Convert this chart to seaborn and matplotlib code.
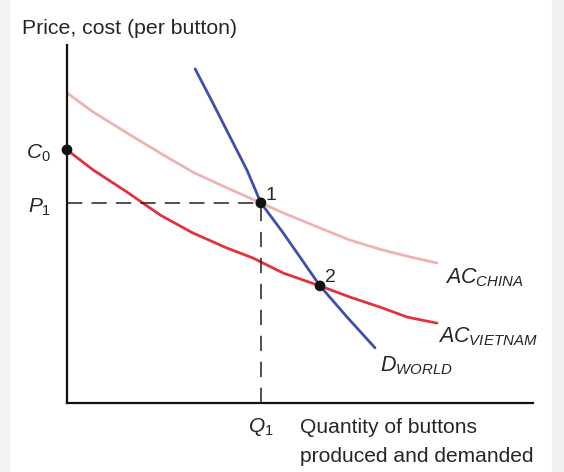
import matplotlib
matplotlib.use("Agg")
import matplotlib.pyplot as plt
import seaborn as sns
import pandas as pd
from matplotlib.patches import Rectangle

# curve values (quantity 0-100, price 0-100)
china_q = [0, 5.6, 12.9, 20.0, 27.0, 34.3, 41.6, 46.4, 53.7, 60.7, 67.8, 73.6, 79.4]
china_p = [86.6, 81.3, 75.4, 69.8, 64.5, 60.1, 55.9, 53.1, 49.2, 45.5, 42.7, 40.8, 39.1]

vietnam_q = [0, 5.6, 12.9, 20.0, 27.0, 34.3, 39.9, 46.4, 54.3, 60.7, 67.8, 73.0, 79.4]
vietnam_p = [70.7, 65.1, 58.9, 52.5, 47.5, 43.3, 40.5, 36.3, 32.7, 29.6, 26.5, 24.0, 22.3]

world_q = [27.5, 31.3, 35.0, 38.6, 41.6, 46.4, 54.3, 60.1, 66.1]
world_p = [93.3, 83.8, 74.3, 65.1, 55.9, 47.5, 32.7, 24.0, 15.4]

# marked points: C0, 1, 2
point_names = ["C0", "1", "2"]
point_q = [0, 41.6, 54.3]
point_p = [70.7, 55.9, 32.7]

q1 = 41.6
p1 = 55.9

sns.set_style("white")
plt.rcParams["font.family"] = ["Liberation Sans", "DejaVu Sans"]
plt.rcParams["mathtext.fontset"] = "custom"
plt.rcParams["mathtext.it"] = "Liberation Sans:italic"
plt.rcParams["mathtext.rm"] = "Liberation Sans"

fig = plt.figure(figsize=(5.64, 4.72), dpi=100)
fig.patches.append(Rectangle((0, 0), 0.016, 1, transform=fig.transFigure, color="#f3f3f3", zorder=-1))
fig.patches.append(Rectangle((0.979, 0), 0.021, 1, transform=fig.transFigure, color="#f1f1f1", zorder=-1))
ax = fig.add_axes([0.1188, 0.1462, 0.8262, 0.7585])
ax.set_xlim(0, 100)
ax.set_ylim(0, 100)

china = pd.DataFrame({"q": china_q, "p": china_p})
vietnam = pd.DataFrame({"q": vietnam_q, "p": vietnam_p})
world = pd.DataFrame({"q": world_q, "p": world_p})

sns.lineplot(data=china, x="q", y="p", ax=ax, color="#efb3b1", lw=2, sort=False, estimator=None)
sns.lineplot(data=vietnam, x="q", y="p", ax=ax, color="#e2323f", lw=2, sort=False, estimator=None)
sns.lineplot(data=world, x="q", y="p", ax=ax, color="#3d4fb0", lw=2, sort=False, estimator=None)

# dashed guides to P1 and Q1
ax.plot([0, q1], [p1, p1], color="#222222", lw=1.1, dashes=(10, 6))
ax.plot([q1, q1], [0, p1], color="#222222", lw=1.1, dashes=(10, 7))

sns.scatterplot(x=point_q, y=point_p, ax=ax, color="#111111", s=60, zorder=5, clip_on=False, edgecolor="none")

# axes
for side in ["top", "right"]:
    ax.spines[side].set_visible(False)
for side in ["left", "bottom"]:
    ax.spines[side].set_linewidth(1.6)
    ax.spines[side].set_color("#111111")

ax.set_xticks([q1])
ax.set_xticklabels([""])
ax.set_yticks([p1])
ax.set_yticklabels([""])
ax.tick_params(axis="x", direction="inout", length=12, width=1.1)
ax.tick_params(axis="y", direction="inout", length=12, width=1.1)
ax.set_xlabel("")
ax.set_ylabel("")

ax.text(-3.4, 68.2, r"$\mathit{C}_{\mathrm{0}}$", fontsize=15, ha="right", va="baseline")
ax.text(-3.4, 53.1, r"$\mathit{P}_{\mathrm{1}}$", fontsize=15, ha="right", va="baseline")
ax.text(q1, -8.1, r"$\mathit{Q}_{\mathrm{1}}$", fontsize=15, ha="center", va="baseline", clip_on=False)

ax.text(-9.7, 103.1, "Price, cost (per button)", fontsize=15.3, ha="left", va="baseline")
ax.text(50.0, -8.4, "Quantity of buttons", fontsize=15.1, ha="left", va="baseline")
ax.text(50.0, -16.5, "produced and demanded", fontsize=15.1, ha="left", va="baseline")

ax.text(point_q[1] + 1.1, point_p[1] + 0.8, point_names[1], fontsize=14, va="baseline")
ax.text(point_q[2] + 1.1, point_p[2] + 1.1, point_names[2], fontsize=14, va="baseline")

ax.text(81.1, 33.5, r"$\mathit{AC}_{\mathit{CHINA}}$", fontsize=15.5, va="baseline")
ax.text(79.6, 17.0, r"$\mathit{AC}_{\mathit{VIETNAM}}$", fontsize=15.5, va="baseline")
ax.text(67.2, 8.9, r"$\mathit{D}_{\mathit{WORLD}}$", fontsize=15.5, va="baseline")

fig.savefig("out.png", dpi=100)
